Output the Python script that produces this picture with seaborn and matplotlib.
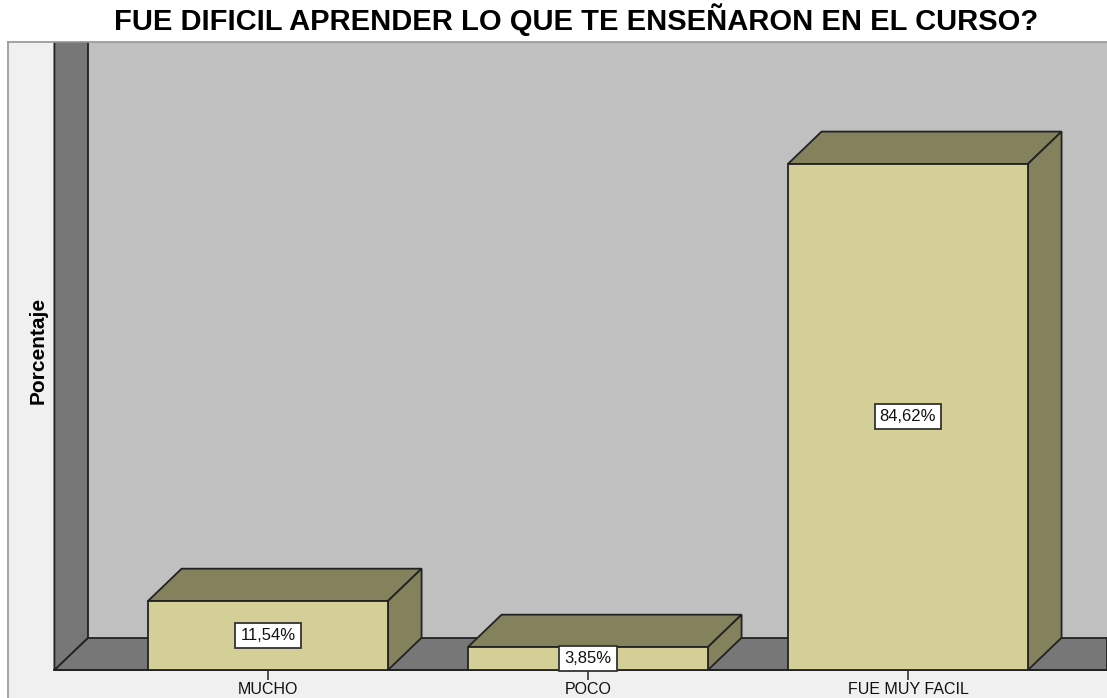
import matplotlib
matplotlib.use("Agg")
import matplotlib.pyplot as plt
from matplotlib.patches import Polygon
import seaborn as sns

categorias = ["MUCHO", "POCO", "FUE MUY FACIL"]
porcentajes = [11.54, 3.85, 84.62]
titulo = "FUE DIFICIL APRENDER LO QUE TE ENSEÑARON EN EL CURSO?"
eje_y = "Porcentaje"

FRENTE = "#d3cf97"
SOMBRA = "#84815d"
MURO = "#777777"
FONDO = "#c0c0c0"
PANEL = "#f0f0f0"

# profundidad del efecto 3D (en unidades de datos)
DX, DY = 0.105, 5.4


def main():
    sns.set_theme(style="white")
    plt.rcParams["font.family"] = ["Liberation Sans", "DejaVu Sans"]
    plt.rcParams["text.color"] = "black"
    plt.rcParams["axes.labelcolor"] = "black"

    fig = plt.figure(figsize=(11.07, 6.98), dpi=100, facecolor="white")
    ax = fig.add_axes([8 / 1107, 0, 1099 / 1107, 656 / 698])
    ax.set_facecolor(PANEL)

    xmin, xmax = -0.8125, 2.622
    ymin, ymax = -4.68, 105.0
    wall_x = -0.5625  # borde trasero del muro izquierdo

    # muro del fondo, piso y muro izquierdo
    ax.add_patch(Polygon([(wall_x, DY), (xmax, DY), (xmax, ymax), (wall_x, ymax)],
                         closed=True, fc=FONDO, ec="none", zorder=0))
    ax.add_patch(Polygon([(wall_x - DX, 0), (xmax, 0), (xmax, DY), (wall_x, DY)],
                         closed=True, fc=MURO, ec="#222222", lw=1.3, zorder=1))
    ax.add_patch(Polygon([(wall_x - DX, 0), (wall_x, DY), (wall_x, ymax), (wall_x - DX, ymax)],
                         closed=True, fc=MURO, ec="#222222", lw=1.3, zorder=1))

    sns.barplot(x=categorias, y=porcentajes, color=FRENTE, saturation=1,
                width=0.75, edgecolor="#222222", linewidth=1.3, ax=ax, zorder=5)
    barras = ax.containers[0]

    for p in barras:
        x0, w, h = p.get_x(), p.get_width(), p.get_height()
        top = Polygon([(x0, h), (x0 + DX, h + DY), (x0 + w + DX, h + DY), (x0 + w, h)],
                      closed=True, fc=SOMBRA, ec="#222222", lw=1.3, zorder=4)
        side = Polygon([(x0 + w, 0), (x0 + w + DX, DY), (x0 + w + DX, h + DY), (x0 + w, h)],
                       closed=True, fc=SOMBRA, ec="#222222", lw=1.3, zorder=4)
        ax.add_patch(top)
        ax.add_patch(side)

    etiquetas = [f"{v:.2f}%".replace(".", ",") for v in porcentajes]
    ax.bar_label(barras, labels=etiquetas, label_type="center",
                 fontsize=12, color="#111111", zorder=6,
                 bbox=dict(boxstyle="square,pad=0.3", fc="white", ec="#333333", lw=1.3))

    ax.set_xlim(xmin, xmax)
    ax.set_ylim(ymin, ymax)

    ax.spines["right"].set_visible(False)
    ax.spines["left"].set_color("#999999")
    ax.spines["top"].set_color("#999999")
    ax.spines["bottom"].set_position(("data", 0))
    ax.spines["bottom"].set_bounds(wall_x - DX, xmax)
    ax.spines["bottom"].set_color("#222222")
    ax.spines["bottom"].set_linewidth(1.3)

    ax.set_yticks([])
    ax.tick_params(axis="x", bottom=True, direction="out", length=7,
                   width=1.2, color="#333333", pad=1.5, labelsize=11.5,
                   labelcolor="#111111")
    ax.set_xlabel("")
    ax.set_ylabel(eje_y, fontsize=15, fontweight="bold")
    ax.yaxis.set_label_coords(0.036, 0.53)

    fig.suptitle(titulo, x=576 / 1107, y=1 - 20 / 698, va="center",
                 fontsize=21, fontweight="bold")

    fig.savefig("out.png", dpi=100, facecolor="white")


if __name__ == "__main__":
    main()
